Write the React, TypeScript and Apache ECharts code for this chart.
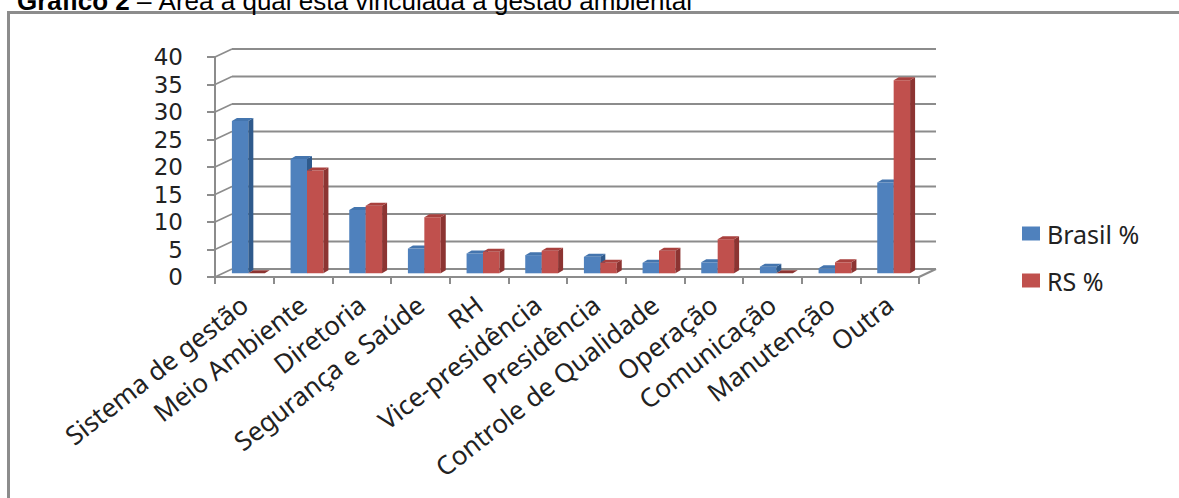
import React, { useEffect, useRef } from "react";
import * as echarts from "echarts";

const categories = [
  "Sistema de gestão",
  "Meio Ambiente",
  "Diretoria",
  "Segurança e Saúde",
  "RH",
  "Vice-presidência",
  "Presidência",
  "Controle de Qualidade",
  "Operação",
  "Comunicação",
  "Manutenção",
  "Outra",
];
const brasil = [27.7, 20.8, 11.5, 4.5, 3.6, 3.3, 3.0, 1.9, 2.0, 1.2, 0.9, 16.5];
const rs = [0, 18.7, 12.3, 10.2, 3.9, 4.1, 1.9, 4.1, 6.2, 0, 2.0, 35.1];
const yTicks = [0, 5, 10, 15, 20, 25, 30, 35, 40];
const seriesNames = ["Brasil %", "RS %"];

const FRONT = ["#4F81BD", "#C0504D"];
const SIDE = ["#2F5A8C", "#8C3432"];
const TOP = ["#4475AE", "#A9413E"];

// wall depth & bar depth offsets (pixels)
const WX = 17, WY = 8;
const BX = 4, BY = -3.7;
const DX = 5, DY = 3;
const GRID_COLOR = "#8c8c8c";

function barRender(si: number) {
  return (params: any, api: any) => {
    const cat = api.value(0);
    const v = api.value(1);
    const top = api.coord([cat, v]);
    const base = api.coord([cat, 0]);
    const band = api.size([1, 0])[0];
    const bw = band * 0.28;
    const x0 = top[0] + (si === 0 ? -bw : 0) + BX;
    const y0 = top[1] + BY;
    const yb = base[1] + BY;
    const children: any[] = [];
    if (yb - y0 > 0.01) {
      children.push({
        type: "rect",
        shape: { x: x0, y: y0, width: bw, height: yb - y0 },
        style: { fill: FRONT[si] },
      });
      children.push({
        type: "polygon",
        shape: {
          points: [
            [x0 + bw, y0],
            [x0 + bw + DX, y0 - DY],
            [x0 + bw + DX, yb - DY],
            [x0 + bw, yb],
          ],
        },
        style: { fill: SIDE[si] },
      });
    }
    children.push({
      type: "polygon",
      shape: {
        points: [
          [x0, y0],
          [x0 + DX, y0 - DY],
          [x0 + bw + DX, y0 - DY],
          [x0 + bw, y0],
        ],
      },
      style: { fill: yb - y0 > 0.01 ? TOP[si] : SIDE[si] },
    });
    return { type: "group", children };
  };
}

function wallRender(params: any, api: any) {
  const cs = params.coordSys;
  const v = api.value(0);
  const p = api.coord([0, v]);
  const y = p[1];
  const children: any[] = [
    {
      type: "line",
      shape: { x1: cs.x + WX, y1: y - WY, x2: cs.x + cs.width + WX, y2: y - WY },
      style: { stroke: GRID_COLOR, lineWidth: 2 },
    },
    {
      type: "line",
      shape: { x1: cs.x, y1: y, x2: cs.x + WX, y2: y - WY },
      style: { stroke: GRID_COLOR, lineWidth: 1.5 },
    },
  ];
  if (v === 0) {
    children.push({
      type: "line",
      shape: { x1: cs.x + cs.width, y1: y, x2: cs.x + cs.width + WX, y2: y - WY },
      style: { stroke: GRID_COLOR, lineWidth: 2 },
    });
  }
  return { type: "group", children };
}

export default function App() {
  const ref = useRef<HTMLDivElement>(null);
  useEffect(() => {
    if (!ref.current) return;
    const chart = echarts.init(ref.current, null, { renderer: "svg" });
    const labelFont = "'Noto Sans', 'DejaVu Sans', sans-serif";
    chart.setOption({
      animation: false,
      backgroundColor: "#ffffff",
      graphic: [
        {
          type: "rect",
          shape: { x: 8.5, y: 12.5, width: 1400, height: 700 },
          style: { fill: "none", stroke: GRID_COLOR, lineWidth: 3 },
          z: 0,
        },
        {
          type: "text",
          x: 17,
          y: 14,
          style: {
            text: "{b|Gráfico 2} – Área à qual está vinculada a gestão ambiental",
            verticalAlign: "bottom",
            fontSize: 26,
            fontFamily: "'Liberation Sans', Arial, sans-serif",
            fill: "#000",
            rich: {
              b: { fontWeight: "bold", fontSize: 26, fontFamily: "'Liberation Sans', Arial, sans-serif" },
            },
          },
        },
      ],
      legend: {
        data: seriesNames,
        orient: "vertical",
        left: 1017,
        top: 216,
        itemWidth: 18,
        itemHeight: 14,
        itemGap: 22,
        icon: "rect",
        textStyle: { fontSize: 25, color: "#222", fontFamily: labelFont, padding: [0, 0, 0, 2] },
      },
      grid: { left: 215, top: 57, width: 704, height: 220 },
      xAxis: {
        type: "category",
        data: categories,
        axisLine: { lineStyle: { color: GRID_COLOR, width: 2 } },
        axisTick: { show: true, length: 7, lineStyle: { color: GRID_COLOR, width: 2 } },
        axisLabel: {
          rotate: 38,
          fontSize: 26,
          color: "#222",
          fontFamily: labelFont,
          margin: 24,
          interval: 0,
        },
        splitLine: { show: false },
      },
      yAxis: {
        type: "value",
        min: 0,
        max: 40,
        interval: 5,
        axisLine: { show: true, lineStyle: { color: GRID_COLOR, width: 2 } },
        axisTick: { show: true, length: 8, lineStyle: { color: GRID_COLOR, width: 2 } },
        axisLabel: { fontSize: 23, color: "#222", fontFamily: "'DejaVu Sans', sans-serif", margin: 32 },
        splitLine: { show: false },
      },
      series: [
        {
          type: "custom",
          name: "wall",
          silent: true,
          renderItem: wallRender,
          data: yTicks.map((v) => [v]),
          encode: { y: 0 },
          z: 1,
        },
        {
          type: "custom",
          name: seriesNames[0],
          renderItem: barRender(0),
          itemStyle: { color: FRONT[0] },
          data: brasil.map((v, i) => [i, v]),
          encode: { x: 0, y: 1 },
          z: 3,
        },
        {
          type: "custom",
          name: seriesNames[1],
          renderItem: barRender(1),
          itemStyle: { color: FRONT[1] },
          data: rs.map((v, i) => [i, v]),
          encode: { x: 0, y: 1 },
          z: 4,
        },
      ],
    });
    return () => chart.dispose();
  }, []);
  return (
    <div
      ref={ref}
      style={{ position: "fixed", left: 0, top: 0, width: 1179, height: 498 }}
    />
  );
}
